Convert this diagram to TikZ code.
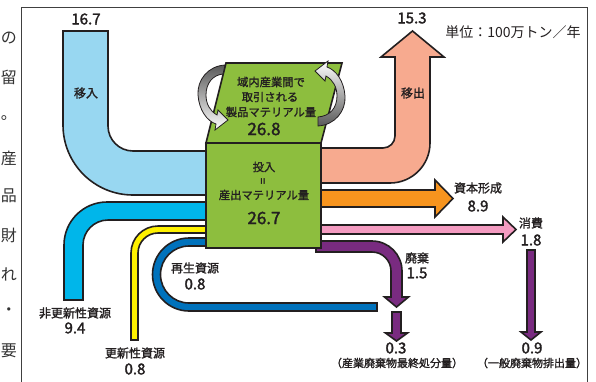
\documentclass[tikz,border=0pt]{standalone}
\usepackage{fontspec}
\newfontfamily\jp{Noto Sans CJK JP}
\newfontfamily\jpm[FakeBold=1.6]{Noto Sans CJK JP}
\newfontfamily\jpb[FakeBold=2]{Noto Sans CJK JP}
\definecolor{grn}{RGB}{141,190,62}
\definecolor{lblue}{RGB}{152,215,241}
\definecolor{cyanb}{RGB}{0,182,234}
\definecolor{yel}{RGB}{255,241,0}
\definecolor{blu}{RGB}{0,114,188}
\definecolor{salmon}{RGB}{247,170,143}
\definecolor{orng}{RGB}{247,148,30}
\definecolor{pnk}{RGB}{244,155,193}
\definecolor{purp}{RGB}{121,43,128}
\definecolor{ink}{RGB}{35,31,32}
\tikzset{
  band/.style={draw=ink, line width=1.6pt, line join=miter},
  lbl/.style={font=\jpm\fontsize{12}{12}\selectfont, text=ink, inner sep=0pt},
  boxlbl/.style={font=\jpm\fontsize{11.3}{11.3}\selectfont, text=ink, inner sep=0pt},
  num/.style={font=\jpb\fontsize{15}{15}\selectfont, text=ink, inner sep=0pt},
  bignum/.style={font=\jpb\fontsize{17}{17}\selectfont, text=ink, inner sep=0pt},
  note/.style={font=\jpm\fontsize{11}{11}\selectfont, text=ink, inner sep=0pt},
  side/.style={font=\jp\fontsize{16}{16}\selectfont, text=black!80, inner sep=0pt},
  curl/.style={draw=ink, line width=0.8pt, line join=miter},
}
\begin{document}
\begin{tikzpicture}[x=1pt,y=-1pt]
\useasboundingbox (0,0) rectangle (596,381);
\fill[white] (0,0) rectangle (596,381);
\clip (0,0) rectangle (596,381);

% text column of the neighbouring page
\node[side] (s1) at (9,38) {の};
\node[side] (s2) at (9,77) {留};
\node[side] (s3) at (9,118) {。};
\node[side] (s4) at (9,158) {産};
\node[side] (s5) at (9,196) {品};
\node[side] (s6) at (9,235) {財};
\node[side] (s7) at (9,274) {れ};
\node[side] (s8) at (9,312) {・};
\node[side] (s9) at (9,351) {要};

% frame
\draw[black!75, line width=1pt] (21,395) -- (21,7) -- (587,7) -- (587,395);

% inflows
\filldraw[band, fill=lblue] (63,31) -- (108,31) -- (108,126) arc[start angle=180, end angle=90, radius=25] -- (212,151) -- (212,195) -- (133,195) arc[start angle=90, end angle=180, radius=70] -- cycle;
\filldraw[band, fill=cyanb] (212,202) -- (107,202) arc[start angle=270, end angle=180, radius=43] -- (64,300) -- (83,300) -- (83,245) arc[start angle=180, end angle=270, radius=25] -- (212,220) -- cycle;
\filldraw[band, fill=yel] (212,226) -- (158,226) arc[start angle=270, end angle=180, radius=27] -- (131,340) -- (138,340) -- (138,253) arc[start angle=180, end angle=270, radius=20] -- (212,233) -- cycle;
\filldraw[band, fill=blu] (212,238) -- (189,238) arc[start angle=270, end angle=90, radius=36.5] -- (377,311) -- (377,303) -- (189,303) arc[start angle=90, end angle=270, radius=28.5] -- (212,246) -- cycle;

% outflows
\filldraw[band, fill=salmon] (316,148) -- (383,148) arc[start angle=90, end angle=0, radius=12] -- (395,57) -- (381,57) -- (412.5,31) -- (444,57) -- (430,57) -- (430,143) arc[start angle=0, end angle=90, radius=40] -- (316,183) -- cycle;
\filldraw[band, fill=orng] (316,190) -- (435,190) -- (435,180) -- (453,198.5) -- (435,217) -- (435,207) -- (316,207) -- cycle;
\filldraw[band, fill=pnk] (316,225) -- (503,225) -- (503,217) -- (516,229.5) -- (503,242) -- (503,234) -- (316,234) -- cycle;
\filldraw[band, fill=purp] (316,241) -- (372,241) arc[start angle=270, end angle=360, radius=30] -- (402,297) -- (408.5,297) -- (396.5,307) -- (384.5,297) -- (391,297) -- (391,271) arc[start angle=0, end angle=-90, radius=19] -- (316,252) -- cycle;
\filldraw[band, fill=purp] (392,312) -- (401,312) -- (401,333) -- (407.5,333) -- (396.5,341) -- (385.5,333) -- (392,333) -- cycle;
\filldraw[band, fill=purp] (527,250) -- (535,250) -- (535,332) -- (541,332) -- (531,340) -- (521,332) -- (527,332) -- cycle;

% green blocks
\filldraw[band, fill=grn] (226,63) -- (342,63) -- (321,143) -- (206,143) -- cycle;
\filldraw[band, fill=grn] (206,143) rectangle (321,248);

% curl arrows
\path[curl, top color=black!65, bottom color=white]
  (225,65) .. controls (208,66) and (197,80) .. (198,95)
  .. controls (199,110) and (207,121) .. (216,124)
  -- (215,130) -- (228,120) -- (218,110) -- (217,115)
  .. controls (210,111) and (206,104) .. (206,95)
  .. controls (206,83) and (213,75) .. (223,74) -- cycle;
\path[curl, top color=white, bottom color=black!65]
  (318,126) .. controls (335,125) and (346,111) .. (345,96)
  .. controls (344,81) and (336,70) .. (327,67)
  -- (328,61) -- (315,71) -- (325,81) -- (326,76)
  .. controls (333,80) and (337,87) .. (337,96)
  .. controls (337,108) and (330,116) .. (318,117) -- cycle;

% texts in green blocks
\node[boxlbl] (t1) at (271,82) {域内産業間で};
\node[boxlbl] (t2) at (270,97) {取引される};
\node[boxlbl] (t3) at (271,112) {製品マテリアル量};
\node[bignum] (t4) at (264,129) {26.8};
\node[boxlbl] (b1) at (264,167) {投入};
\node[boxlbl, rotate=90] (b2) at (264,181) {=};
\node[boxlbl] (b3) at (264,195) {産出マテリアル量};
\node[bignum] (b4) at (264,218) {26.7};

% labels
\node[num] (n167) at (86,19) {16.7};
\node[lbl] (l1) at (86,93) {移入};
\node[num] (n153) at (412,18) {15.3};
\node[lbl] (l2) at (413,93) {移出};
\node[font=\jp\fontsize{14}{14}\selectfont, text=ink, inner sep=0pt] (unit) at (513,32) {単位：100万トン／年};
\node[lbl] (l3) at (478,188) {資本形成};
\node[num] (n89) at (478,206) {8.9};
\node[lbl] (l4) at (531,223) {消費};
\node[num] (n18) at (531,240) {1.8};
\node[lbl] (l5) at (417,258) {廃棄};
\node[num] (n15) at (417,273) {1.5};
\node[lbl] (l6) at (195,268) {再生資源};
\node[num] (n08a) at (195,284) {0.8};
\node[lbl] (l7) at (75,313) {非更新性資源};
\node[num] (n94) at (75,328) {9.4};
\node[lbl] (l8) at (135,353) {更新性資源};
\node[num] (n08b) at (135,369) {0.8};
\node[num] (n03) at (396,348) {0.3};
\node[note] (l9) at (397,363) {（産業廃棄物最終処分量）};
\node[num] (n09) at (532,348) {0.9};
\node[note] (l10) at (532,363) {（一般廃棄物排出量）};
\end{tikzpicture}
\end{document}
